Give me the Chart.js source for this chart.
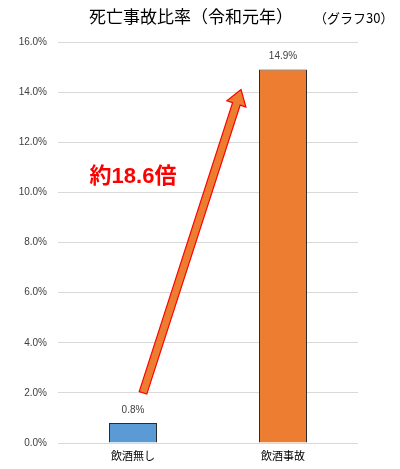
<!DOCTYPE html>
<html><head><meta charset="utf-8">
<script src="https://cdn.jsdelivr.net/npm/chart.js@4/dist/chart.umd.min.js"></script>
<style>html,body{margin:0;padding:0;background:#fff;}canvas{display:block;}</style>
</head><body>
<canvas id="c" width="400" height="469"></canvas>
<script>
const categories = ['飲酒無し', '飲酒事故'];
const ratios = [0.8, 14.9];
const barColors = ['#5B9BD5', '#ED7D31'];
const yTicks = [0, 2, 4, 6, 8, 10, 12, 14, 16];
const titleText = '死亡事故比率（令和元年）';
const subTitleText = '（グラフ30）';
const annotationText = '約18.6倍';
// arrow from the small bar's level up toward the big bar (values in data units)
const arrowFrom = { cat: 0, dx: 10, value: 2.0 };
const arrowTo = { cat: 1, dx: -42, value: 14.1 };
const annotationPos = { cat: 0, value: 10.6 };

const FONT = '"Liberation Sans", "Noto Sans CJK JP", sans-serif';

const overlay = {
  id: 'overlay',
  afterDatasetsDraw(chart) {
    const ctx = chart.ctx;
    const xs = chart.scales.x, ys = chart.scales.y;
    // data labels
    const meta = chart.getDatasetMeta(0);
    ctx.save();
    ctx.fillStyle = '#404040';
    ctx.font = '10px ' + FONT;
    ctx.textAlign = 'center';
    ctx.textBaseline = 'middle';
    meta.data.forEach((bar, i) => {
      ctx.fillText(ratios[i].toFixed(1) + '%', bar.x, bar.y - 13);
    });
    // arrow
    const x0 = xs.getPixelForValue(arrowFrom.cat) + arrowFrom.dx;
    const y0 = ys.getPixelForValue(arrowFrom.value);
    const x1 = xs.getPixelForValue(arrowTo.cat) + arrowTo.dx;
    const y1 = ys.getPixelForValue(arrowTo.value);
    const ang = Math.atan2(y1 - y0, x1 - x0);
    const len = Math.hypot(x1 - x0, y1 - y0);
    const sw = 4, hw = 10, hl = 15;
    ctx.translate(x0, y0);
    ctx.rotate(ang);
    ctx.beginPath();
    ctx.moveTo(0, -sw);
    ctx.lineTo(len - hl, -sw);
    ctx.lineTo(len - hl, -hw);
    ctx.lineTo(len, 0);
    ctx.lineTo(len - hl, hw);
    ctx.lineTo(len - hl, sw);
    ctx.lineTo(0, sw);
    ctx.closePath();
    ctx.fillStyle = '#ED7D31';
    ctx.fill();
    ctx.strokeStyle = '#FF0000';
    ctx.lineWidth = 1.2;
    ctx.stroke();
    ctx.restore();
    // annotation text
    ctx.save();
    ctx.fillStyle = '#FF0000';
    ctx.font = 'bold 22px ' + FONT;
    ctx.textAlign = 'center';
    ctx.textBaseline = 'middle';
    ctx.fillText(annotationText, xs.getPixelForValue(annotationPos.cat), ys.getPixelForValue(annotationPos.value));
    ctx.restore();
    // titles
    ctx.save();
    ctx.fillStyle = '#000';
    ctx.textBaseline = 'middle';
    ctx.textAlign = 'center';
    ctx.font = '17px "Noto Sans CJK JP", sans-serif';
    ctx.fillText(titleText, 191, 17);
    ctx.font = '13px "Noto Sans CJK JP", sans-serif';
    ctx.textAlign = 'left';
    ctx.fillText(subTitleText, 314, 18);
    ctx.restore();
  }
};

new Chart(document.getElementById('c'), {
  type: 'bar',
  data: {
    labels: categories,
    datasets: [{
      data: ratios,
      backgroundColor: barColors,
      borderColor: '#2b2b2b',
      borderWidth: 1,
      barPercentage: 0.32,
      categoryPercentage: 1.0
    }]
  },
  options: {
    responsive: false,
    animation: false,
    layout: { padding: { top: 42, right: 42, left: 0, bottom: 0 } },
    plugins: { legend: { display: false }, title: { display: false }, tooltip: { enabled: false } },
    scales: {
      x: {
        grid: { display: false, drawTicks: false },
        border: { display: false },
        ticks: { color: '#000', font: { size: 11, family: '"Noto Sans CJK JP", sans-serif' }, padding: 6 },
        afterFit(s) { s.height = 26; }
      },
      y: {
        min: 0, max: 16,
        afterBuildTicks(s) { s.ticks = yTicks.map(v => ({ value: v })); },
        grid: { color: '#d9d9d9', drawTicks: false, lineWidth: 1 },
        border: { display: false },
        ticks: {
          color: '#404040',
          font: { size: 10, family: FONT },
          padding: 11,
          callback: v => v.toFixed(1) + '%'
        },
        afterFit(s) { s.width = 58; }
      }
    }
  },
  plugins: [overlay]
});
</script>
</body></html>
